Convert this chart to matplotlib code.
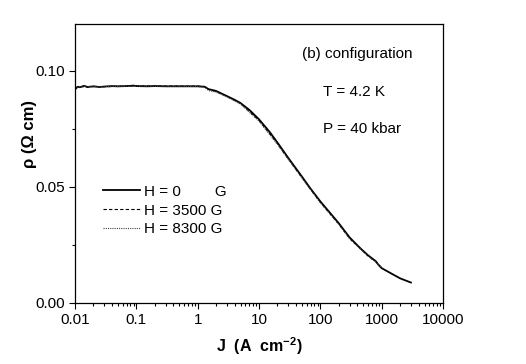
import matplotlib
matplotlib.use("Agg")
import matplotlib.pyplot as plt
from matplotlib.ticker import LogLocator, FixedLocator, NullFormatter, FixedFormatter

plt.rcParams['font.family'] = ['Liberation Sans', 'DejaVu Sans']
plt.rcParams['mathtext.fontset'] = 'custom'
plt.rcParams['mathtext.rm'] = 'Liberation Sans'
plt.rcParams['mathtext.bf'] = 'Liberation Sans:bold'

# Current density (A cm^-2)
J_0 = [0.010, 0.011, 0.012, 0.014, 0.016, 0.02, 0.025, 0.03, 0.04, 0.05, 0.07, 0.09, 0.1, 0.15, 0.2, 0.3,
       0.5, 0.7, 1.0, 1.3, 1.5, 2.0, 3.0, 4.0, 5.0, 7.0, 10, 15, 20, 30, 50, 70, 100, 150, 200, 300, 450,
       600, 800, 900, 1000, 1500, 2000, 3000]
rho_0 = [0.0918, 0.0930, 0.0928, 0.0934, 0.0929, 0.0932, 0.0929, 0.0931, 0.0933, 0.0932, 0.0933, 0.0935,
         0.0933, 0.0932, 0.0933, 0.0932, 0.0932, 0.0932, 0.0932, 0.0930, 0.0920, 0.0912, 0.0890, 0.0874,
         0.0860, 0.0830, 0.0790, 0.0735, 0.0690, 0.0624, 0.0544, 0.0490, 0.0437, 0.0382, 0.0343, 0.0282,
         0.0235, 0.0205, 0.0180, 0.0162, 0.0150, 0.0124, 0.0106, 0.0088]

J_3500 = [0.010, 0.012, 0.015, 0.02, 0.03, 0.05, 0.07, 0.1, 0.2, 0.3, 0.5, 1.0, 1.3, 1.5, 2.0, 3.0, 5.0,
          10, 20, 30, 50, 100, 200, 300, 600, 800, 1000]
rho_3500 = [0.0925, 0.0931, 0.0929, 0.0931, 0.0930, 0.0932, 0.0933, 0.0934, 0.0933, 0.0933, 0.0933,
            0.0933, 0.0931, 0.0918, 0.0910, 0.0888, 0.0858, 0.0785, 0.0685, 0.0620, 0.0540, 0.0433,
            0.0340, 0.0278, 0.0203, 0.0178, 0.0152]

J_8300 = [0.010, 0.012, 0.015, 0.02, 0.03, 0.05, 0.07, 0.1, 0.2, 0.3, 0.5, 1.0, 1.3, 1.5, 2.0, 3.0, 5.0,
          10, 20, 30, 50, 100, 200, 300, 600, 800, 1000]
rho_8300 = [0.0924, 0.0930, 0.0932, 0.0930, 0.0931, 0.0931, 0.0932, 0.0933, 0.0932, 0.0932, 0.0932,
            0.0931, 0.0928, 0.0914, 0.0907, 0.0886, 0.0856, 0.0782, 0.0682, 0.0618, 0.0538, 0.0431,
            0.0338, 0.0276, 0.0201, 0.0176, 0.0151]

labels = ['H = 0        G', 'H = 3500 G', 'H = 8300 G']
x_ticks = [0.01, 0.1, 1, 10, 100, 1000, 10000]
x_ticklabels = ['0.01', '0.1', '1', '10', '100', '1000', '10000']
y_ticks = [0.00, 0.05, 0.10]
y_ticklabels = ['0.00', '0.05', '0.10']

fig = plt.figure(figsize=(5.26, 3.64), dpi=100)
ax = fig.add_axes([75/526, 1-303/364, (443-75)/526, (303-24)/364])

l1, = ax.plot(J_0, rho_0, color='black', lw=1.3, ls='-')
l2, = ax.plot(J_3500, rho_3500, color='black', lw=0.8, ls=(0, (3, 2)))
l3, = ax.plot(J_8300, rho_8300, color='#444444', lw=0.8, ls=(0, (1, 1)))

ax.set_xscale('log')
ax.set_xlim(0.01, 10000)
ax.set_ylim(0, 0.12)

ax.xaxis.set_major_locator(FixedLocator(x_ticks))
ax.xaxis.set_major_formatter(FixedFormatter(x_ticklabels))
ax.xaxis.set_minor_locator(LogLocator(base=10, subs=range(2, 10), numticks=20))
ax.xaxis.set_minor_formatter(NullFormatter())
ax.yaxis.set_major_locator(FixedLocator(y_ticks))
ax.yaxis.set_major_formatter(FixedFormatter(y_ticklabels))
ax.yaxis.set_minor_locator(FixedLocator([0.025, 0.075]))

ax.tick_params(which='both', direction='out', top=False, right=False, labelsize=11, width=0.8)
ax.tick_params(which='major', length=4, pad=3)
ax.tick_params(which='minor', length=2)
for s in ax.spines.values():
    s.set_linewidth(0.9)

ax.set_xlabel(r'J  (A  cm$^{\mathbf{-2}}$)', fontsize=11.5, fontweight='bold', labelpad=6)
ax.set_ylabel(r'ρ (Ω cm)', fontsize=12, fontweight='bold', labelpad=-1)
ax.yaxis.label.set_y((303 - 134) / 279)

fig.text(302/526, 1-54/364, '(b) configuration', fontsize=11, va='center')
fig.text(323/526, 1-92/364, 'T = 4.2 K', fontsize=11, va='center')
fig.text(323/526, 1-129/364, 'P = 40 kbar', fontsize=11, va='center')

leg = ax.legend([l1, l2, l3], labels, loc='upper left', bbox_to_anchor=(0.059, 0.446),
                frameon=False, fontsize=11, handlelength=2.42, handletextpad=0.3,
                labelspacing=0.32, borderaxespad=0)

fig.savefig('out.png', dpi=100)
